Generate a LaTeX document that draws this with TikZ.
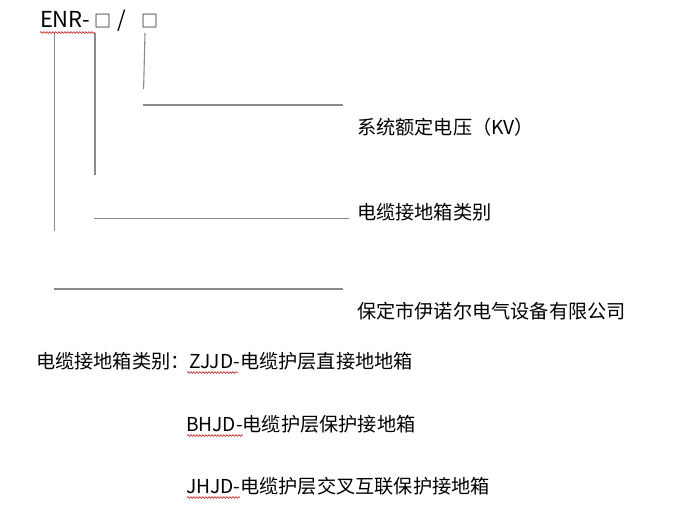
\documentclass[tikz,border=0pt]{standalone}
\usepackage{fontspec}
\setmainfont{Noto Sans CJK SC}
\usetikzlibrary{decorations.pathmorphing}
\definecolor{linegray}{HTML}{8A8A8A}
\tikzset{
  lbl/.style={anchor=base west,inner sep=0pt,outer sep=0pt,font=\fontsize{19.2}{23}\selectfont,text=black},
  codefont/.style={anchor=base west,inner sep=0pt,outer sep=0pt,font=\fontsize{22}{26}\selectfont,text=black},
  sqfont/.style={anchor=base west,inner sep=0pt,outer sep=0pt,font=\fontsize{17}{20}\selectfont,text=black},
  lead/.style={draw=linegray,line width=1.1pt},
  lead2/.style={draw=linegray,line width=1.8pt},
  wavy/.style={draw=red!75!black,line width=0.5pt,decorate,decoration={snake,amplitude=0.9pt,segment length=3pt}}
}
\begin{document}
\begin{tikzpicture}[x=1pt,y=-1pt]
\useasboundingbox (0,0) rectangle (688,524);
% model code
\node[codefont] (code) at (40,27.5) {ENR-};
\node[sqfont] (sq1) at (94,27.5) {□};
\node[codefont] (slash) at (117,27.5) {/};
\node[sqfont] (sq2) at (141,27.5) {□};
% labels
\node[lbl] (kv) at (357,135) {系统额定电压（KV）};
\node[lbl] (cat) at (357,219) {电缆接地箱类别};
\node[lbl] (co) at (357,318) {保定市伊诺尔电气设备有限公司};
\node[lbl] (t1) at (36,368) {电缆接地箱类别：ZJJD-电缆护层直接地地箱};
\node[lbl] (t2) at (186,431) {BHJD-电缆护层保护接地箱};
\node[lbl] (t3) at (186,493) {JHJD-电缆护层交叉互联保护接地箱};
% leader coordinates
\coordinate (v1t) at (54.3,33);
\coordinate (v1b) at (54.3,231);
\coordinate (v2t) at (95,33);
\coordinate (v2b) at (95,175);
\coordinate (v3t) at (145,33);
\coordinate (v3b) at (143.6,89);
\coordinate (h1l) at (143,105);
\coordinate (h1r) at (343,105);
\coordinate (h2l) at (94,218.3);
\coordinate (h2r) at (349,218.3);
\coordinate (h3l) at (54,289);
\coordinate (h3r) at (343,289);
\draw[lead] (v1t) -- (v1b);
\draw[lead2] (v2t) -- (v2b);
\draw[lead] (v3t) -- (v3b);
\draw[lead] (h1l) -- (h1r);
\draw[lead] (h2l) -- (h2r);
\draw[lead] (h3l) -- (h3r);
% spell-check underlines
\coordinate (w0l) at (40,32.5);
\coordinate (w0r) at (95,32.5);
\coordinate (w1l) at (187,372.5);
\coordinate (w1r) at (238,372.5);
\coordinate (w2l) at (187,435.5);
\coordinate (w2r) at (243,435.5);
\coordinate (w3l) at (187,497.5);
\coordinate (w3r) at (240,497.5);
\draw[wavy] (w0l) -- (w0r);
\draw[wavy] (w1l) -- (w1r);
\draw[wavy] (w2l) -- (w2r);
\draw[wavy] (w3l) -- (w3r);
\end{tikzpicture}
\end{document}
